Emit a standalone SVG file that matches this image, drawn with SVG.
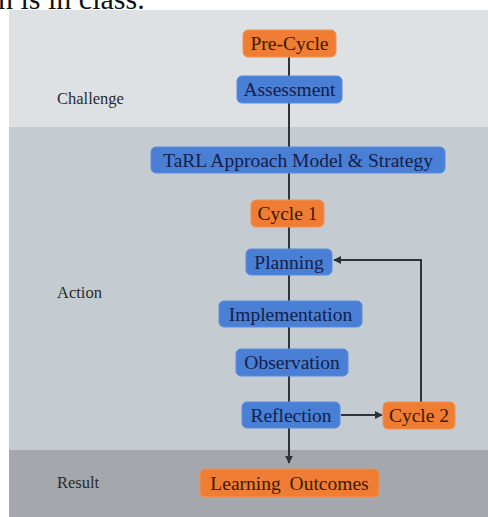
<svg xmlns="http://www.w3.org/2000/svg" width="488" height="517" viewBox="0 0 488 517">
<defs>
<style>
.band-label{font-family:"Liberation Serif","Times New Roman",serif;font-size:16.5px;fill:#2a2a2a}
.nt{font-family:"Liberation Serif","Times New Roman",serif;font-size:19.5px;text-anchor:middle;dominant-baseline:central}
.blue rect{fill:#4a7fd6;stroke:#5b8be0;stroke-width:1}
.blue text{fill:#13214a}
.orange rect{fill:#ef7d33;stroke:#f39050;stroke-width:1}
.orange text{fill:#3b1a08}
.conn{stroke:#2e3338;stroke-width:2;fill:none}
</style>
<marker id="ah" viewBox="0 0 10 10" refX="9" refY="5" markerWidth="4" markerHeight="4" orient="auto-start-reverse">
<path d="M0,0 L10,5 L0,10 z" fill="#2e3338"/>
</marker>
</defs>
<rect width="488" height="517" fill="#ffffff"/>
<text x="-2" y="9" font-family="Liberation Serif,Times New Roman,serif" font-size="30" fill="#111">n is in class.</text>
<g id="bands">
<rect x="9" y="10" width="479" height="117" fill="#dde1e4"/>
<rect x="9" y="127" width="479" height="323" fill="#c4cbd1"/>
<rect x="9" y="450" width="479" height="67" fill="#a4a8ad"/>
<text class="band-label" x="57" y="104">Challenge</text>
<text class="band-label" x="57" y="298">Action</text>
<text class="band-label" x="57" y="488">Result</text>
</g>
<g id="connectors">
<line class="conn" x1="289" y1="57" x2="289" y2="463" marker-end="url(#ah)"/>
<line class="conn" x1="341" y1="415" x2="382" y2="415" marker-end="url(#ah)"/>
<polyline class="conn" points="421,402 421,260 334,260" marker-end="url(#ah)"/>
</g>
<g id="pre-cycle" class="orange"><rect x="243" y="30" width="93" height="27" rx="5"/><text class="nt" x="289.5" y="43.5">Pre-Cycle</text></g>
<g id="assessment" class="blue"><rect x="237" y="76" width="105" height="27" rx="5"/><text class="nt" x="289.5" y="89.5">Assessment</text></g>
<g id="tarl" class="blue"><rect x="151" y="147" width="294" height="26" rx="5"/><text class="nt" x="298" y="160">TaRL Approach Model &amp; Strategy</text></g>
<g id="cycle-1" class="orange"><rect x="251" y="200" width="73" height="27" rx="5"/><text class="nt" x="287.5" y="213.5">Cycle 1</text></g>
<g id="planning" class="blue"><rect x="246" y="249" width="86" height="26" rx="5"/><text class="nt" x="289" y="262">Planning</text></g>
<g id="implementation" class="blue"><rect x="219" y="301" width="143" height="26" rx="5"/><text class="nt" x="290.5" y="314">Implementation</text></g>
<g id="observation" class="blue"><rect x="236" y="349" width="112" height="27" rx="5"/><text class="nt" x="292" y="362.5">Observation</text></g>
<g id="reflection" class="blue"><rect x="242" y="402" width="98" height="26" rx="5"/><text class="nt" x="291" y="415">Reflection</text></g>
<g id="cycle-2" class="orange"><rect x="383" y="402" width="72" height="27" rx="5"/><text class="nt" x="419" y="415.5">Cycle 2</text></g>
<g id="learning-outcomes" class="orange"><rect x="200" y="469" width="179" height="28" rx="5"/><text class="nt" x="289.5" y="483" word-spacing="4">Learning Outcomes</text></g>
</svg>
